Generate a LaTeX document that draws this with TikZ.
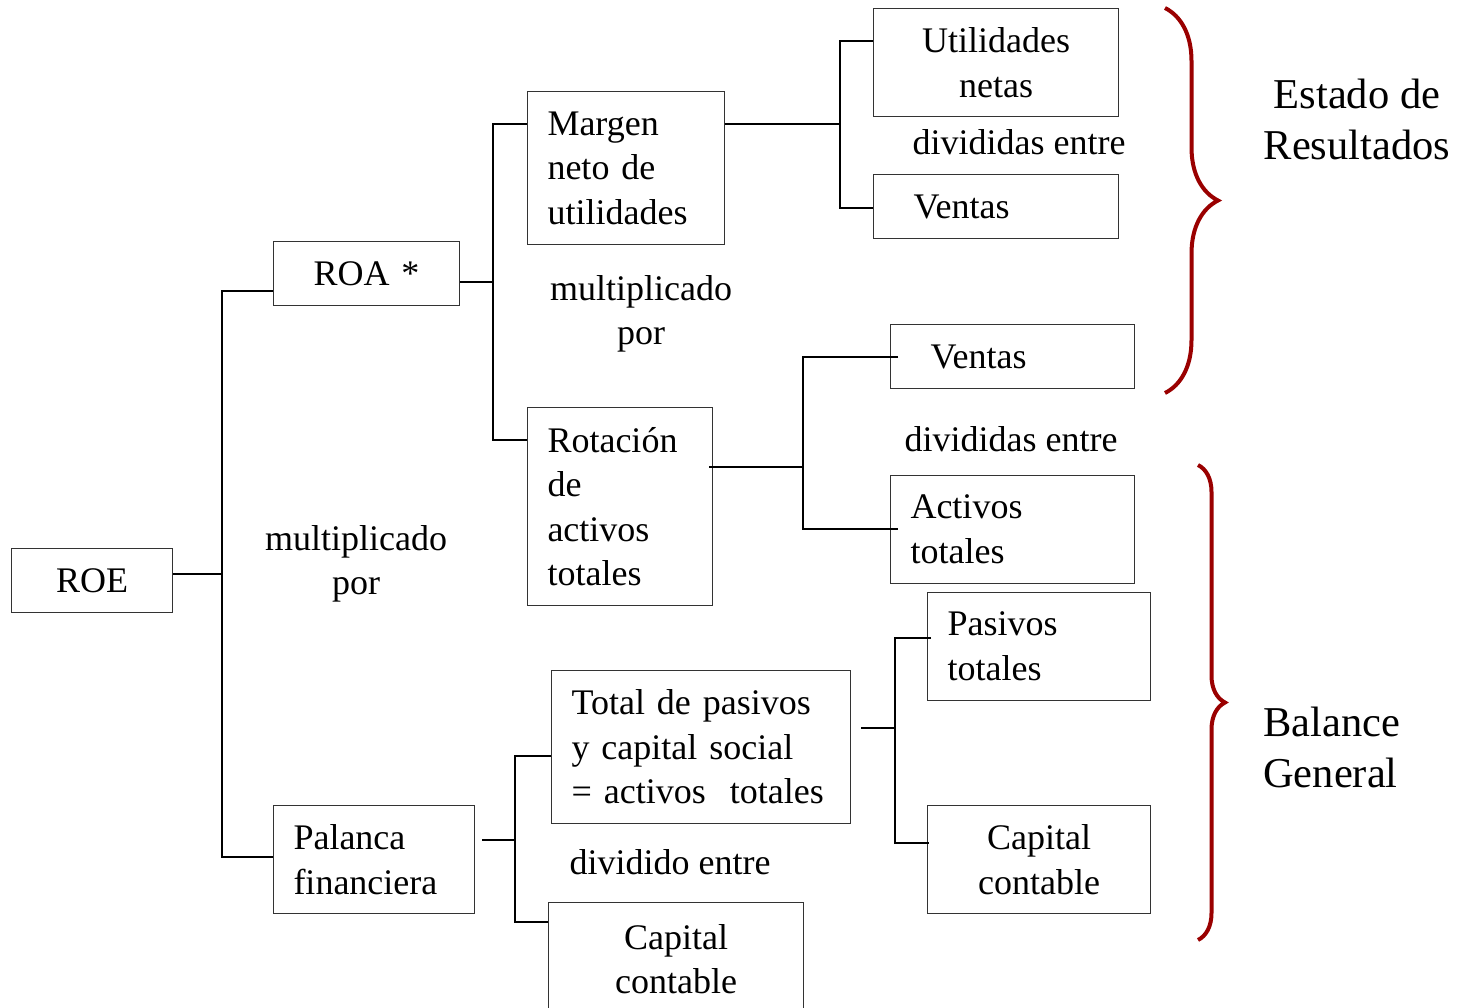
\documentclass[tikz,border=0pt]{standalone}
\usepackage{fontspec}
\setmainfont{Liberation Serif}
\usetikzlibrary{positioning}
\usetikzlibrary{decorations.pathreplacing}
\definecolor{bracered}{HTML}{9A0000}

\begin{document}
\begin{tikzpicture}[x=1pt,y=-1pt,font=\fontsize{36}{44.5}\selectfont]
\tikzstyle{box}=[draw=black!80, line width=1pt, rectangle, anchor=north west, inner xsep=20pt, inner ysep=0pt, align=left]
\tikzstyle{cbox}=[box, align=center]
\tikzstyle{txt}=[inner sep=0pt, align=center]
\tikzstyle{big}=[txt, font=\fontsize{42.5}{51}\selectfont]
\tikzstyle{link}=[line width=1.8pt]
\tikzstyle{curly}=[draw=bracered, line width=4pt, decorate]
\fill[white] (0,0) rectangle (1458,1008);
\useasboundingbox (0,0) rectangle (1458,1008);
% boxes
\node[cbox, text width=121pt, minimum height=64pt]	(ROE)	at (11,548)		{ROE};
\node[cbox, text width=146pt, minimum height=64pt]	(ROA)	at (273,241)	{ROA *};
\node[box, text width=161pt, minimum height=108pt]	(PF)	at (273,805)	{Palanca\\financiera};
\node[box, text width=157pt, minimum height=153pt]	(MN)	at (527,91)		{Margen\\neto de\\utilidades};
\node[box, text width=145pt, minimum height=198pt]	(RA)	at (527,407)	{Rotación\\de\\activos\\totales};
\node[box, text width=259pt, minimum height=153pt]	(TP)	at (551,670)	{Total de pasivos\\y capital social\\= activos~~totales};
\node[cbox, text width=215pt, minimum height=113pt]	(CC)	at (548,902)	{Capital\\contable};
\node[cbox, text width=205pt, minimum height=108pt]	(UN)	at (873,8)		{Utilidades\\netas};
\node[box, inner xsep=40pt, text width=165pt, minimum height=64pt]	(V1)	at (873,174)	{Ventas};
\node[box, inner xsep=40pt, text width=164pt, minimum height=64pt]	(V2)	at (890,324)	{Ventas};
\node[box, text width=204pt, minimum height=108pt]	(AT)	at (890,475)	{Activos\\totales};
\node[box, text width=183pt, minimum height=108pt]	(PT)	at (927,592)	{Pasivos\\totales};
\node[cbox, text width=183pt, minimum height=108pt]	(CR)	at (927,805)	{Capital\\contable};
% labels
\node[txt]	(mul1)	at (356,564)	{multiplicado\\por};
\node[txt]	(mul2)	at (641,314)	{multiplicado\\por};
\node[txt]	(div1)	at (1019,142)	{divididas entre};
\node[txt]	(div2)	at (1011,439)	{divididas entre};
\node[txt]	(div3)	at (670,862)	{dividido entre};
\node[big]	(ER)	at (1357,119)	{Estado de\\Resultados};
\node[big, align=left, anchor=west]	(BG)	at (1263,747)	{Balance\\General};
% connectors
\coordinate (r0) at (222,574); \coordinate (r1) at (222,291); \coordinate (r2) at (222,857);
\draw[link] (ROE.east |- r0) -- (r0);
\draw[link] (ROA.west |- r1) -- (r1) -- (r2) -- (PF.west |- r2);
\coordinate (a0) at (493,282); \coordinate (a1) at (493,124); \coordinate (a2) at (493,440);
\draw[link] (ROA.east |- a0) -- (a0);
\draw[link] (MN.west |- a1) -- (a1) -- (a2) -- (RA.west |- a2);
\coordinate (m0) at (840,124); \coordinate (m1) at (840,41); \coordinate (m2) at (840,208);
\draw[link] (MN.east |- m0) -- (m0);
\draw[link] (UN.west |- m1) -- (m1) -- (m2) -- (V1.west |- m2);
\coordinate (o0) at (803,467); \coordinate (o1) at (803,357); \coordinate (o2) at (803,529);
\draw[link] ([xshift=-4pt]RA.east |- o0) -- (o0);
\draw[link] ([xshift=8pt]V2.west |- o1) -- (o1) -- (o2) -- ([xshift=8pt]AT.west |- o2);
\coordinate (p0) at (515,840); \coordinate (p1) at (515,756); \coordinate (p2) at (515,922);
\draw[link] ([xshift=7pt]PF.east |- p0) -- (p0);
\draw[link] (TP.west |- p1) -- (p1) -- (p2) -- (CC.west |- p2);
\coordinate (q0) at (895,728); \coordinate (q1) at (895,638); \coordinate (q2) at (895,843);
\draw[link] ([xshift=10pt]TP.east |- q0) -- (q0);
\draw[link] ([xshift=4pt]PT.west |- q1) -- (q1) -- (q2) -- ([xshift=2pt]CR.west |- q2);
% braces
\draw[curly, decoration={brace, amplitude=53pt}] (1165,8) -- (1165,393);
\draw[curly, decoration={brace, amplitude=27pt}] (1198,465) -- (1198,940);
\end{tikzpicture}
\end{document}
